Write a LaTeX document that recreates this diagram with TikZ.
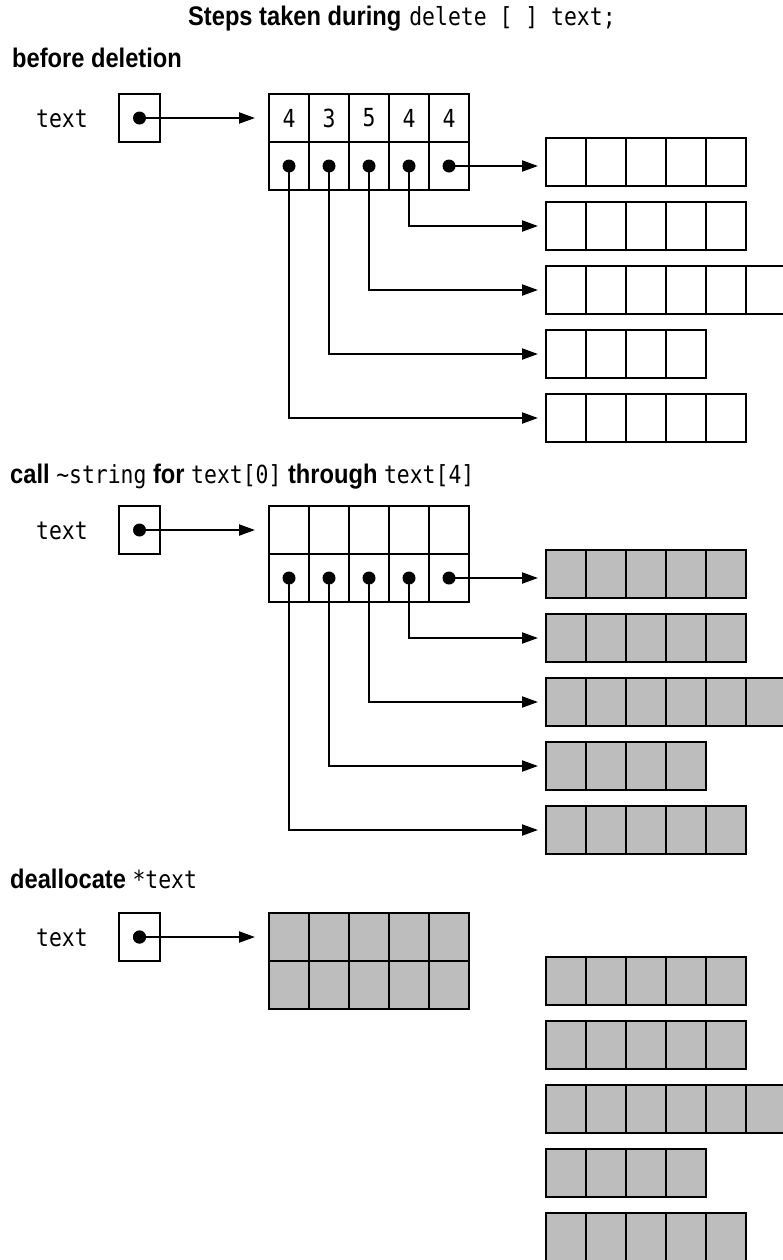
\documentclass[tikz,border=0pt]{standalone}
\usepackage{fontspec}
\setmainfont[FakeStretch=0.88]{Liberation Sans}
\newfontfamily\monof[FakeStretch=0.86]{DejaVu Sans Mono}
\usetikzlibrary{arrows.meta}
\definecolor{shadecol}{gray}{0.74}
\tikzset{
  cell/.style={draw, line width=2bp, minimum width=40bp, minimum height=48bp,
    inner sep=0pt, anchor=north west, font=\monof\fontsize{25}{26}\selectfont},
  shadedcell/.style={cell, fill=shadecol},
  ptr/.style={draw, line width=2bp, minimum width=41bp, minimum height=48bp,
    inner sep=0pt, anchor=north west},
  dotnode/.style={circle, fill=black, inner sep=0pt, minimum size=13bp},
  link/.style={line width=2bp, -{Triangle[length=16bp,width=11bp]}},
  mono/.style={font=\monof\fontsize{25}{26}\selectfont, inner sep=0pt, anchor=base west},
  head/.style={font=\fontsize{27}{29}\selectfont, inner sep=0pt, anchor=base west},
}
\newcommand{\mytt}[1]{{\monof\fontsize{25}{26}\selectfont #1}}
\begin{document}
\begin{tikzpicture}[x=1bp, y=-1bp]
\useasboundingbox[fill=white] (0,0) rectangle (783,1260);

% ---------- headings ----------
\node[head] (title) at (188,25) {\textbf{Steps taken during}\hspace{0.3em}\mytt{delete [ ] text;}};
\node[head] (h1) at (12,67) {\textbf{before deletion}};
\node[head] (h2) at (10,483) {\textbf{call} \mytt{\textasciitilde string} \textbf{for} \mytt{text[0]} \textbf{through} \mytt{text[4]}};
\node[head] (h3) at (10,888) {\textbf{deallocate} \mytt{*text}};

% ---------- section 1: before deletion ----------
\node[mono] (lab1) at (36,127) {text};
\node[ptr] (p1) at (118,93) {};
\node[dotnode] (pd1) at (p1.center) {};
\foreach \i/\d in {1/4,2/3,3/5,4/4,5/4} {
  \node[cell] (t1-\i) at ({268+40*(\i-1)},93) {\d};
  \node[cell] (b1-\i) at ({268+40*(\i-1)},141) {};
}
\foreach \r/\n/\y in {1/5/137,2/5/201,3/6/265,4/4/329,5/5/393} {
  \foreach \j in {1,...,\n} {
    \node[cell] (s1-\r-\j) at ({545+40*(\j-1)},\y) {};
  }
}
\draw[link, shorten >=13bp] (pd1.center) -- (pd1 -| t1-1.west);
\draw[link, shorten >=7bp] (b1-5.center) -- (b1-5.center -| s1-1-1.west);
\draw[link, shorten >=7bp] (b1-4.center) |- (s1-2-1.west);
\draw[link, shorten >=7bp] (b1-3.center) |- (s1-3-1.west);
\draw[link, shorten >=7bp] (b1-2.center) |- (s1-4-1.west);
\draw[link, shorten >=7bp] (b1-1.center) |- (s1-5-1.west);
\foreach \i in {1,...,5} { \node[dotnode] (bd1-\i) at (b1-\i.center) {}; }

% ---------- section 2: call ~string ----------
\node[mono] (lab2) at (36,539) {text};
\node[ptr] (p2) at (118,505) {};
\node[dotnode] (pd2) at (p2.center) {};
\foreach \i in {1,...,5} {
  \node[cell] (t2-\i) at ({268+40*(\i-1)},505) {};
  \node[cell] (b2-\i) at ({268+40*(\i-1)},553) {};
}
\foreach \r/\n/\y in {1/5/549,2/5/613,3/6/677,4/4/741,5/5/805} {
  \foreach \j in {1,...,\n} {
    \node[shadedcell] (s2-\r-\j) at ({545+40*(\j-1)},\y) {};
  }
}
\draw[link, shorten >=13bp] (pd2.center) -- (pd2 -| t2-1.west);
\draw[link, shorten >=7bp] (b2-5.center) -- (b2-5.center -| s2-1-1.west);
\draw[link, shorten >=7bp] (b2-4.center) |- (s2-2-1.west);
\draw[link, shorten >=7bp] (b2-3.center) |- (s2-3-1.west);
\draw[link, shorten >=7bp] (b2-2.center) |- (s2-4-1.west);
\draw[link, shorten >=7bp] (b2-1.center) |- (s2-5-1.west);
\foreach \i in {1,...,5} { \node[dotnode] (bd2-\i) at (b2-\i.center) {}; }

% ---------- section 3: deallocate *text ----------
\node[mono] (lab3) at (36,946) {text};
\node[ptr] (p3) at (118,912) {};
\node[dotnode] (pd3) at (p3.center) {};
\foreach \i in {1,...,5} {
  \node[shadedcell] (t3-\i) at ({268+40*(\i-1)},912) {};
  \node[shadedcell] (b3-\i) at ({268+40*(\i-1)},960) {};
}
\foreach \r/\n/\y in {1/5/956,2/5/1020,3/6/1084,4/4/1148,5/5/1212} {
  \foreach \j in {1,...,\n} {
    \node[shadedcell] (s3-\r-\j) at ({545+40*(\j-1)},\y) {};
  }
}
\draw[link, shorten >=13bp] (pd3.center) -- (pd3 -| t3-1.west);
\node[dotnode] at (p3.center) {};
\end{tikzpicture}
\end{document}
